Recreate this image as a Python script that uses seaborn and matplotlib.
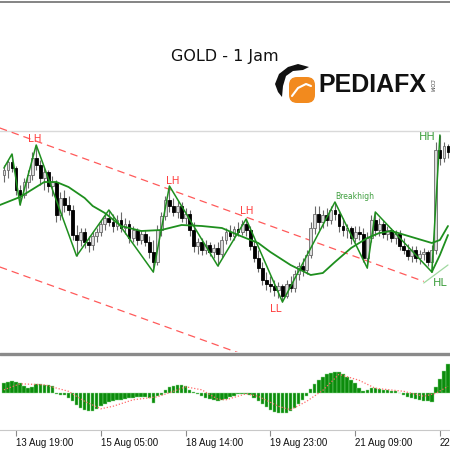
import numpy as np
import pandas as pd
import matplotlib
matplotlib.use("Agg")
import matplotlib.pyplot as plt
import seaborn as sns
from matplotlib.patches import FancyBboxPatch, Polygon
from matplotlib.lines import Line2D

# GOLD 1H candles (13 - 22 Aug)
opens = [3362.5, 3365, 3369, 3366, 3355, 3352.5, 3359, 3362.5, 3371, 3367.5,
         3361, 3364, 3357, 3359, 3342.5, 3351, 3347.5, 3345, 3332.5, 3330,
         3334, 3329, 3327.5, 3332, 3334, 3338, 3341, 3339, 3337, 3340,
         3336, 3338, 3331, 3335, 3330, 3333, 3329, 3324, 3319, 3335,
         3342, 3350, 3347, 3344, 3347, 3341, 3343, 3335, 3327, 3329,
         3325, 3327.5, 3324, 3326, 3323, 3330, 3334, 3332, 3335.5, 3334,
         3338, 3335, 3327, 3321, 3316, 3310, 3308, 3307, 3305, 3307,
         3302, 3308, 3306, 3313, 3317, 3315, 3322.5, 3336, 3343, 3339,
         3342.5, 3340, 3345, 3343, 3337, 3335, 3336, 3331, 3334, 3333,
         3321, 3331, 3340, 3335, 3338, 3333, 3335, 3331, 3333, 3327,
         3325, 3322, 3325, 3321, 3323, 3324, 3319, 3325, 3375, 3371,
         3377]
highs = [3367.5, 3370, 3373, 3367, 3357.5, 3361, 3365, 3374, 3377.5, 3370,
         3366, 3365, 3362, 3360, 3354, 3355, 3352, 3347.5, 3337.5, 3336,
         3336, 3332, 3334, 3336, 3340, 3342.5, 3345, 3343, 3342.5, 3344,
         3341, 3340, 3337, 3336, 3335, 3335, 3332, 3330, 3337.5, 3344,
         3352, 3357, 3351, 3350, 3349, 3346, 3345, 3339, 3331, 3331,
         3330, 3329, 3328, 3329, 3332, 3336, 3337.5, 3337, 3339, 3340,
         3340.5, 3337, 3330, 3325, 3319, 3314, 3312, 3310, 3309, 3308,
         3310, 3312, 3315, 3319, 3321, 3325, 3339, 3347, 3347, 3345,
         3346, 3347, 3349, 3345, 3341, 3338, 3337, 3337, 3337, 3336,
         3334, 3342.5, 3344, 3341, 3340, 3337, 3336, 3335, 3335, 3331,
         3328, 3327, 3327, 3325, 3326, 3325, 3327.5, 3379, 3382.5, 3379,
         3378]
lows = [3359, 3361, 3364, 3352.5, 3347.5, 3351, 3356, 3360, 3365, 3357.5,
        3355, 3354, 3352, 3339, 3340, 3344, 3342.5, 3330, 3322, 3327,
        3326, 3324, 3325, 3329, 3332, 3335, 3337, 3334, 3335, 3334,
        3333, 3328.5, 3329, 3327.5, 3328, 3327, 3321, 3314, 3317.5, 3332,
        3340, 3344, 3342, 3341, 3339, 3338, 3332, 3324, 3323, 3322.5,
        3323, 3322, 3321, 3317, 3321, 3328, 3330, 3330, 3332, 3332.5,
        3332, 3325, 3319, 3314, 3307.5, 3305, 3304, 3302, 3301, 3299,
        3301, 3304, 3304, 3310, 3312, 3313, 3321, 3333, 3335, 3336,
        3337, 3338, 3340, 3334, 3332, 3331, 3328, 3329, 3330, 3319,
        3316, 3329, 3332, 3332, 3331, 3330, 3329, 3328, 3325, 3323,
        3320, 3319, 3319, 3318, 3320, 3317, 3314, 3323, 3367.5, 3369,
        3371]
closes = [3365, 3369, 3366, 3355, 3352.5, 3359, 3362.5, 3371, 3367.5, 3361,
          3364, 3357, 3359, 3342.5, 3351, 3347.5, 3345, 3332.5, 3330, 3334,
          3329, 3327.5, 3332, 3334, 3338, 3341, 3339, 3337, 3340, 3336,
          3338, 3331, 3335, 3330, 3333, 3329, 3324, 3319, 3335, 3342,
          3350, 3347, 3344, 3347, 3341, 3343, 3335, 3327, 3329, 3325,
          3327.5, 3324, 3326, 3323, 3330, 3334, 3332, 3335.5, 3334, 3338,
          3335, 3327, 3321, 3316, 3310, 3308, 3307, 3305, 3307, 3302,
          3308, 3306, 3313, 3317, 3315, 3322.5, 3336, 3343, 3339, 3342.5,
          3340, 3345, 3343, 3337, 3335, 3336, 3331, 3334, 3333, 3321,
          3331, 3340, 3335, 3338, 3333, 3335, 3331, 3333, 3327, 3325,
          3322, 3325, 3321, 3323, 3324, 3319, 3325, 3375, 3371, 3377,
          3374]

tick_bars = [3, 24, 45, 66, 87, 108]
tick_labels = ["13 Aug 19:00", "15 Aug 05:00", "18 Aug 14:00",
               "19 Aug 23:00", "21 Aug 09:00", "22"]

# zigzag swing points
zz_bars = [0, 2, 4, 8, 18, 26, 37, 41, 53, 60, 69, 82, 90, 92, 106, 108]
zz_prices = [3366, 3373, 3347.5, 3377.5, 3322, 3345, 3314, 3357, 3317,
             3340.5, 3299, 3349, 3316, 3344, 3314, 3382.5]
zz_tags = ["", "", "", "LH", "", "", "", "LH", "", "LH", "LL",
           "Breakhigh", "", "", "HL", "HH"]

# moving average
ma_bars = [-1, 4, 10, 13, 16, 20, 22, 25, 29, 34, 39, 44, 49, 54, 58, 63,
           66, 71, 76, 79, 82, 86, 90, 93, 96, 101, 106, 108, 110]
ma_prices = [3347.5, 3351.5, 3359, 3359, 3356.5, 3351, 3347, 3343.5, 3337,
             3334.5, 3335, 3337.5, 3337, 3336, 3332.5, 3328.5, 3324, 3317.5,
             3312.5, 3313.5, 3319, 3326, 3331, 3333.5, 3334.5, 3331.5,
             3328.5, 3330, 3337]
fast_bars = [106, 108, 110]
fast_prices = [3314, 3322.5, 3332.5]

# channel / trend lines
upper_bars = [-1, 104]
upper_prices = [3386, 3309.3]
lower_bars = [-1, 60]
lower_prices = [3316.5, 3272.2]
hl_bars = [104, 110]
hl_prices = [3308.5, 3317.5]
level_price = 3384.6

# MACD histogram and signal
macd = [1.0, 1.1, 1.2, 1.1, 1.0, 0.7, 0.5, 0.6, 0.9, 0.9,
        0.85, 0.8, 0.7, -0.1, -0.15, -0.2, -0.5, -0.8, -1.2, -1.5,
        -1.7, -1.8, -1.8, -1.6, -1.3, -1.1, -0.9, -0.75, -0.7, -0.65,
        -0.6, -0.5, -0.45, -0.4, -0.4, -0.4, -0.45, -1.0, -0.3, -0.15,
        0.3, 0.6, 0.75, 0.8, 0.8, 0.7, 0.3, 0.1, -0.05, -0.3,
        -0.5, -0.6, -0.7, -0.75, -0.7, -0.55, -0.4, -0.3, -0.1, -0.05,
        -0.1, -0.2, -0.45, -0.8, -1.1, -1.4, -1.7, -1.9, -2.0, -2.0,
        -1.95, -1.8, -1.5, -1.1, -0.7, -0.3, 0.4, 0.9, 1.3, 1.6,
        1.9, 2.05, 2.15, 2.1, 1.9, 1.6, 1.35, 1.05, 0.5, 0.2,
        0.35, 0.5, 0.5, 0.45, 0.35, 0.3, 0.25, 0.2, 0.05, -0.15,
        -0.35, -0.5, -0.6, -0.7, -0.75, -0.8, -0.9, 0.6, 1.4, 2.2,
        2.9]
sig_bars = [0, 4, 10, 16, 20, 24, 27, 32, 38, 42, 45, 49, 53, 55, 60, 63,
            68, 71, 75, 79, 83, 88, 92, 99, 104, 107, 110]
sig_vals = [0.35, 0.95, 0.85, 0.2, -0.8, -1.55, -1.3, -0.65, -0.35, 0.2,
            0.65, 0.35, -0.6, -0.65, -0.05, -0.3, -1.3, -1.65, -0.8, 0.3,
            1.9, 1.3, 0.5, 0.2, -0.3, 0.0, 0.7]

sns.set_theme(style="white")
plt.rcParams['font.family'] = ['DejaVu Sans']

W = 450.0
fig = plt.figure(figsize=(4.5, 4.5), dpi=100)


def fy(py):
    return 1 - py / W


ax = fig.add_axes([0, fy(352), 1, 348 / W])
ax2 = fig.add_axes([0, fy(430), 1, 74 / W])

df = pd.DataFrame({"open": opens, "high": highs, "low": lows, "close": closes})
df["bar"] = np.arange(len(df))
up = df["close"] >= df["open"]

# candles
ax.vlines(df["bar"], df["low"], df["high"], color="#6a6a6a", lw=0.8, zorder=3)
ax.bar(df.loc[up, "bar"], (df["close"] - df["open"])[up], bottom=df["open"][up],
       width=0.7, color="#dcdcdc", edgecolor="#6a6a6a", linewidth=0.6, zorder=4)
ax.bar(df.loc[~up, "bar"], (df["open"] - df["close"])[~up], bottom=df["close"][~up],
       width=0.7, color="black", edgecolor="black", linewidth=0.6, zorder=4)

# lines
ax.axhline(level_price, color="#d9d9d9", lw=1, zorder=1)
red = "#ff5a5a"
sns.lineplot(x=upper_bars, y=upper_prices, ax=ax, color=red, lw=0.9,
             linestyle=(0, (6, 4)), zorder=2)
sns.lineplot(x=lower_bars, y=lower_prices, ax=ax, color=red, lw=0.9,
             linestyle=(0, (6, 4)), zorder=2)
sns.lineplot(x=hl_bars, y=hl_prices, ax=ax, color="#9fd89f", lw=0.9, zorder=2)
green = "#1e8f1e"
sns.lineplot(x=ma_bars, y=ma_prices, ax=ax, color=green, lw=1.3, zorder=5)
sns.lineplot(x=fast_bars, y=fast_prices, ax=ax, color=green, lw=1.3, zorder=5)
sns.lineplot(x=zz_bars, y=zz_prices, ax=ax, color=green, lw=1.1, zorder=5)

# swing labels
tag_offsets = [None, None, None, (-1, 6), None, None, None, (3.5, 5), None,
               (1, 8), (-6.5, -7), (20, 5), None, None, (8, -11), (-13, -2)]
for b, p, t, off in zip(zz_bars, zz_prices, zz_tags, tag_offsets):
    if not t:
        continue
    if t in ("LH", "LL"):
        col, fs = "#ff4040", 7.5
    elif t == "Breakhigh":
        col, fs = "#3f9f3f", 5.5
    else:
        col, fs = "#3f9f3f", 8
    ax.annotate(t, (b, p), xytext=off, textcoords="offset pixels",
                ha="center", va="center", color=col, fontsize=fs, zorder=6)

ax.set_xlim(-0.97, 110.5)
ax.set_ylim(3274, 3448)
ax.axis("off")

# MACD panel
ax2.bar(df["bar"], macd, width=0.85, color="#0c8c0c", edgecolor="#8fdc8f",
        linewidth=0.3, zorder=2)
sns.lineplot(x=sig_bars, y=sig_vals, ax=ax2, color="#ff6b6b", lw=0.9,
             linestyle=(0, (1, 1.5)), zorder=3)
ax2.set_xlim(-0.97, 110.5)
ax2.set_ylim(-3.67, 3.73)
ax2.set_yticks([])
for s in ["top", "left", "right"]:
    ax2.spines[s].set_visible(False)
ax2.spines["bottom"].set_color("#c8c8c8")
ax2.spines["bottom"].set_linewidth(0.8)
ax2.set_xticks(tick_bars)
ax2.set_xticklabels(tick_labels, ha="left", fontsize=7,
                    family=["Liberation Sans", "DejaVu Sans"])
ax2.tick_params(axis="x", bottom=True, length=4, width=0.8, color="#8a8a8a",
                pad=1.5, labelcolor="#111111")
ax2.set_xlabel("")
ax2.set_ylabel("")

# frame lines
fig.add_artist(Line2D([0, 1], [fy(1.5), fy(1.5)], transform=fig.transFigure,
                      color="#707070", lw=1.2))
fig.add_artist(Line2D([0, 1], [fy(354), fy(354)], transform=fig.transFigure,
                      color="#8a8a8a", lw=2.4))

# title and logo
fig.text(0.5, fy(57), "GOLD - 1 Jam", ha="center", va="center", fontsize=11.5,
         color="#111111")
fig.text(318 / W, fy(85.5), "PEDIAFX", ha="left", va="center", fontsize=18,
         fontweight="bold", family=["Liberation Sans", "DejaVu Sans"],
         color="#111111")
fig.text(431 / W, fy(85), ".COM", ha="center", va="center", fontsize=3.5,
         rotation=-90, color="#333333")
fig.add_artist(FancyBboxPatch((289 / W, fy(103)), 26 / W, 26 / W,
                              boxstyle="round,pad=0,rounding_size=0.018",
                              transform=fig.transFigure, fc="#f28a1e", ec="none"))
hat = [(275, 84), (279, 74), (288, 67), (298, 64), (309, 67), (303, 70),
       (293, 71), (286, 76), (283, 86), (282, 97), (278, 92)]
fig.add_artist(Polygon([(x / W, fy(y)) for x, y in hat], closed=True,
                       transform=fig.transFigure, fc="#111111", ec="none"))
fig.add_artist(Line2D([292 / W, 298 / W, 306 / W, 311 / W],
                      [fy(96), fy(88), fy(84), fy(86)],
                      transform=fig.transFigure, color="white", lw=1.5))

fig.savefig("out.png", dpi=100)
